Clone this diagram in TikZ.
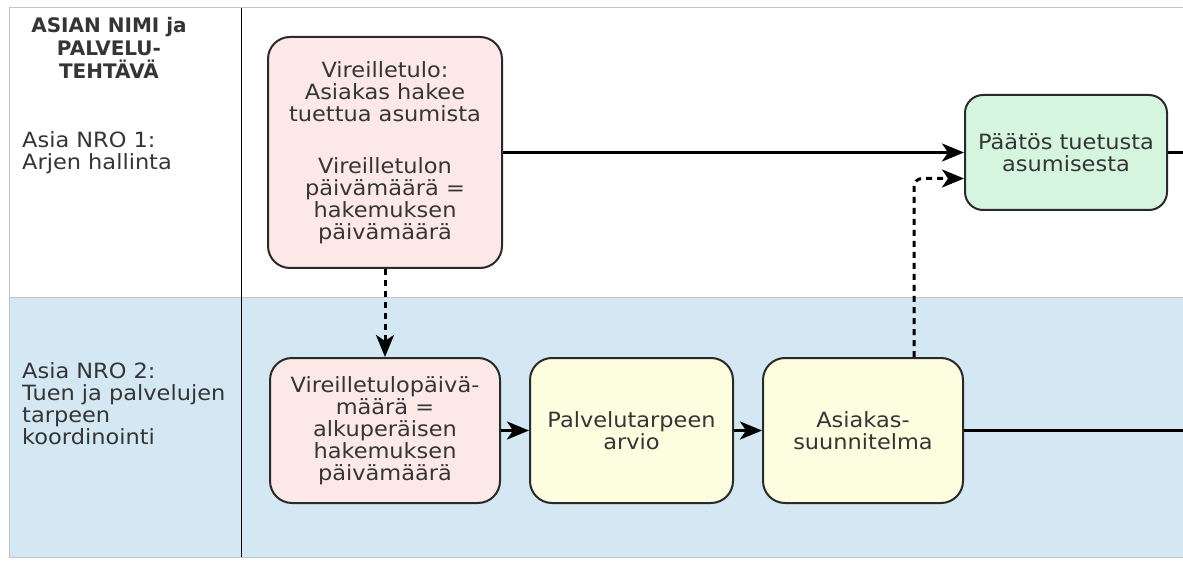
\documentclass[tikz,border=0pt]{standalone}
\usepackage{fontspec}
\setmainfont[FakeStretch=1.07]{DejaVu Sans}
\newfontfamily\hdfont{DejaVu Sans}
\usetikzlibrary{arrows.meta}
\definecolor{pinkfill}{HTML}{FDE8E8}
\definecolor{greenfill}{HTML}{D6F5DF}
\definecolor{yellowfill}{HTML}{FDFDE0}
\definecolor{lanefill}{HTML}{D3E8F3}
\definecolor{boxline}{HTML}{2A2A2A}
\definecolor{txt}{HTML}{353535}
\definecolor{frame}{HTML}{C4C4C4}
\begin{document}
\begin{tikzpicture}[x=1pt,y=-1pt,
  box/.style={draw=boxline, line width=2pt, rounded corners=22pt, align=center,
    inner sep=0pt, text=txt, font=\fontsize{21}{22}\selectfont},
  lanelabel/.style={anchor=north west, align=left, inner sep=0pt, text=txt,
    font=\fontsize{21}{22}\selectfont},
  tip/.style={-{Stealth[length=22pt,width=18pt,inset=6pt]}},
  flow/.style={line width=3pt, draw=black, tip},
  plain/.style={line width=3pt, draw=black},
  depend/.style={line width=3pt, draw=black, dash pattern=on 6pt off 5pt, tip}
]
\useasboundingbox (0,0) rectangle (1183,561);
\fill[white] (0,0) rectangle (1183,561);
% lanes
\fill[lanefill] (9,298) rectangle (1183,557);
\draw[frame, line width=1pt] (1183,8) -- (9,8) -- (9,557) -- (1183,557);
\draw[frame, line width=1pt] (9,298) -- (1183,298);
\draw[black, line width=1.6pt] (241.5,8) -- (241.5,557);
% header and lane labels
\node[anchor=north, align=center, inner sep=0pt, text=txt,
  font=\hdfont\bfseries\fontsize{20}{23}\selectfont] (hdr) at (109,17.5)
  {ASIAN NIMI ja\\PALVELU-\\TEHTÄVÄ};
\node[lanelabel] (lane1) at (22,131) {Asia NRO 1:\\Arjen hallinta};
\node[lanelabel] (lane2) at (22,362) {Asia NRO 2:\\Tuen ja palvelujen\\tarpeen\\koordinointi};
% boxes
\node[box, fill=pinkfill, minimum width=234pt, minimum height=231pt] (A) at (385,152.5)
  {Vireilletulo:\\Asiakas hakee\\tuettua asumista\\[30pt]Vireilletulon\\päivämäärä =\\hakemuksen\\päivämäärä};
\node[box, fill=greenfill, rounded corners=18pt, minimum width=202pt, minimum height=115pt] (B) at (1066,152.5)
  {Päätös tuetusta\\asumisesta};
\node[box, fill=pinkfill, minimum width=230pt, minimum height=145pt] (C) at (385,430.5)
  {Vireilletulopäivä-\\määrä =\\alkuperäisen\\hakemuksen\\päivämäärä};
\node[box, fill=yellowfill, minimum width=203pt, minimum height=145pt] (D) at (631.5,430.5)
  {Palvelutarpeen\\arvio};
\node[box, fill=yellowfill, minimum width=200pt, minimum height=145pt] (E) at (863,430.5)
  {Asiakas-\\suunnitelma};
% free ends
\coordinate (Bout) at (1183,152.5);
\coordinate (Eout) at (1183,430.5);
% connectors
\draw[flow] (A.east) -- (B.west);
\draw[plain] (B.east) -- (Bout);
\draw[depend] (A.south) -- (C.north);
\draw[flow] (C.east) -- (D.west);
\draw[flow] (D.east) -- (E.west);
\draw[plain] (E.east) -- (Eout);
\draw[depend, rounded corners=8pt] ([xshift=51pt]E.north) |- ([yshift=-26pt]B.west);
\end{tikzpicture}
\end{document}
